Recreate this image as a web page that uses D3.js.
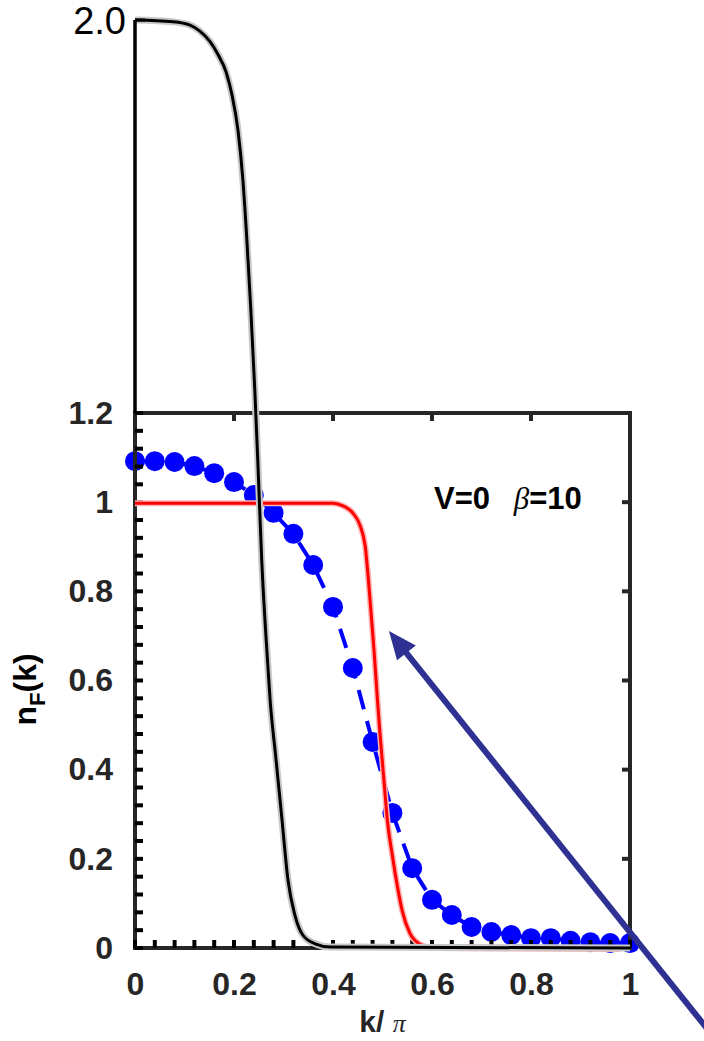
<!DOCTYPE html>
<html><head><meta charset="utf-8">
<script src="https://cdn.jsdelivr.net/npm/d3@7"></script>
<style>
html,body{margin:0;padding:0;background:#fff;}
svg{display:block;}
</style></head>
<body>
<svg id="chart" width="704" height="1041"></svg>
<script>
// ---- data ----
const blueK = [0,0.04,0.08,0.12,0.16,0.20,0.24,0.28,0.32,0.36,0.40,0.44,0.48,0.52,0.56,0.60,0.64,0.68,0.72,0.76,0.80,0.84,0.88,0.92,0.96,1.00];
const blueN = [1.092,1.092,1.090,1.081,1.065,1.045,1.016,0.976,0.929,0.859,0.765,0.628,0.462,0.303,0.179,0.108,0.074,0.047,0.036,0.029,0.022,0.022,0.016,0.013,0.011,0.011];
const redK = [0,0.40,0.42,0.44,0.455,0.465,0.475,0.483,0.49,0.495,0.503,0.51,0.52,0.53,0.54,0.555,0.575,0.60,0.98];
const redN = [1.0,1.0,0.994,0.978,0.949,0.904,0.781,0.668,0.556,0.482,0.377,0.287,0.209,0.141,0.085,0.036,0.011,0.002,0.0];
// black curve belongs to the overlaid 0..2 scale
const blackK = [0,0.077,0.111,0.131,0.152,0.168,0.184,0.196,0.208,0.218,0.226,0.234,0.242,0.248,0.256,0.265,0.273,0.285,0.297,0.309,0.323,0.339,0.364,0.394,1.0];
const blackN = [2.0,1.996,1.989,1.976,1.953,1.925,1.888,1.838,1.763,1.655,1.526,1.375,1.203,1.052,0.836,0.664,0.534,0.405,0.276,0.147,0.071,0.028,0.009,0.002,0.0];
const xTicks = [0,0.2,0.4,0.6,0.8,1];
const xTickLabels = ["0","0.2","0.4","0.6","0.8","1"];
const yTicks = [0,0.2,0.4,0.6,0.8,1,1.2];
const yTickLabels = ["0","0.2","0.4","0.6","0.8","1","1.2"];
const topScaleTick = 2.0;
const topScaleLabel = "2.0";

// ---- layout ----
const svg = d3.select("#chart");
const x = d3.scaleLinear().domain([0,1]).range([135,630]);
const y = d3.scaleLinear().domain([0,1.2]).range([948,413]);
const yTop = d3.scaleLinear().domain([0,2]).range([948,20]);
const axisColor = "#262626";
const fontSans = "'Liberation Sans', Arial, Helvetica, sans-serif";
const fontSerif = "'Liberation Serif', 'DejaVu Serif', serif";

// blue dashed line + dots
const blueData = blueK.map((k,i)=>({k, v: blueN[i]}));
svg.append("path")
  .datum(blueData)
  .attr("d", d3.line().x(d=>x(d.k)).y(d=>y(d.v)))
  .attr("fill","none").attr("stroke","#0000ff").attr("stroke-width",4)
  .attr("stroke-dasharray","20,12");
svg.append("g").selectAll("circle").data(blueData).join("circle")
  .attr("cx",d=>x(d.k)).attr("cy",d=>y(d.v)).attr("r",10).attr("fill","#0000ff");

// axes box
const minorX = d3.range(0,1.0001,0.04);
const minorY = d3.range(0,1.2001,0.04);
const gAx = svg.append("g");
gAx.append("rect").attr("x",x(0)).attr("y",y(1.2)).attr("width",x(1)-x(0)).attr("height",y(0)-y(1.2))
  .attr("fill","none").attr("stroke",axisColor).attr("stroke-width",4);
gAx.append("g").selectAll("line").data(minorY).join("line")
  .attr("x1",x(0)).attr("x2",x(0)+8).attr("y1",d=>y(d)).attr("y2",d=>y(d))
  .attr("stroke","#000").attr("stroke-width",4);
gAx.append("g").selectAll("line").data(minorX).join("line")
  .attr("x1",d=>x(d)).attr("x2",d=>x(d)).attr("y1",y(0)).attr("y2",y(0)-8)
  .attr("stroke","#000").attr("stroke-width",4);
gAx.append("g").selectAll("line").data(xTicks.slice(1,-1)).join("line")
  .attr("x1",d=>x(d)).attr("x2",d=>x(d)).attr("y1",y(1.2)).attr("y2",y(1.2)+8)
  .attr("stroke",axisColor).attr("stroke-width",4);
gAx.append("g").selectAll("line").data(yTicks.slice(1,-1)).join("line")
  .attr("x1",x(1)).attr("x2",x(1)-8).attr("y1",d=>y(d)).attr("y2",d=>y(d))
  .attr("stroke",axisColor).attr("stroke-width",4);

// tick labels via d3 axes
const yAxis = d3.axisLeft(y).tickValues(yTicks).tickSize(0).tickPadding(22)
  .tickFormat((d,i)=>yTickLabels[i]);
const gy = svg.append("g").attr("transform",`translate(${x(0)},0)`).call(yAxis);
gy.select(".domain").remove();
gy.selectAll("text").attr("font-family",fontSans).attr("font-weight","bold")
  .attr("font-size",32).attr("fill",axisColor);

const xAxis = d3.axisBottom(x).tickValues(xTicks).tickSize(0).tickPadding(24)
  .tickFormat((d,i)=>xTickLabels[i]);
const gx = svg.append("g").attr("transform",`translate(0,${y(0)})`).call(xAxis);
gx.select(".domain").remove();
gx.selectAll("text").attr("font-family",fontSans).attr("font-weight","bold")
  .attr("font-size",32).attr("fill",axisColor);

// red curve
const redData = redK.map((k,i)=>({k, v: redN[i]}));
const redLine = d3.line().curve(d3.curveMonotoneX).x(d=>x(d.k)).y(d=>y(d.v)+1);
svg.append("path").datum(redData).attr("d", redLine)
  .attr("fill","none").attr("stroke","#ffb0b0").attr("stroke-width",6);
svg.append("path").datum(redData).attr("d", redLine)
  .attr("fill","none").attr("stroke","#ff0000").attr("stroke-width",3);

// black curve (overlaid 0..2 scale) with grey halo
const blackData = blackK.map((k,i)=>({k, v: blackN[i]}));
const blackLine = d3.line().curve(d3.curveMonotoneX).x(d=>x(d.k)).y(d=>yTop(d.v));
svg.append("path").datum(blackData).attr("d",blackLine)
  .attr("fill","none").attr("stroke","#c8c8c8").attr("stroke-width",7);
svg.append("path").datum(blackData).attr("d",blackLine)
  .attr("fill","none").attr("stroke","#000").attr("stroke-width",3);

// overlaid top axis (vertical segment up to 2.0)
svg.append("line").attr("x1",x(0)).attr("x2",x(0)).attr("y1",yTop(topScaleTick)).attr("y2",y(1.2))
  .attr("stroke","#000").attr("stroke-width",3.5);
svg.append("line").attr("x1",x(0)).attr("x2",x(0)+10).attr("y1",yTop(topScaleTick)).attr("y2",yTop(topScaleTick))
  .attr("stroke","#000").attr("stroke-width",3);
svg.append("text").attr("x",x(0)-9).attr("y",yTop(topScaleTick)).attr("dy","0.36em")
  .attr("text-anchor","end").attr("font-family",fontSans).attr("font-size",38).attr("fill","#000")
  .text(topScaleLabel);

// annotation
const annY = y(0.985);
svg.append("text").attr("x",x(0.604)).attr("y",annY)
  .attr("font-family",fontSans).attr("font-weight","bold").attr("font-size",31).attr("fill","#000")
  .text("V=0");
const ann2 = svg.append("text").attr("x",x(0.765)).attr("y",annY)
  .attr("font-family",fontSans).attr("font-weight","bold").attr("font-size",31).attr("fill","#000");
ann2.append("tspan").attr("font-family",fontSerif).attr("font-style","italic")
  .attr("font-weight","normal").attr("font-size",31).text("β");
ann2.append("tspan").text("=10");

// axis labels
const xl = svg.append("text").attr("x",x(0.5)).attr("y",1032).attr("text-anchor","middle")
  .attr("font-family",fontSans).attr("font-weight","bold").attr("font-size",30).attr("fill",axisColor);
xl.append("tspan").text("k/ ");
xl.append("tspan").attr("font-family",fontSerif).attr("font-style","italic")
  .attr("font-weight","normal").attr("font-size",26).text("π");

const yl = svg.append("text").attr("transform",`translate(36,${y(0.58)}) rotate(-90)`).attr("text-anchor","middle")
  .attr("font-family",fontSans).attr("font-weight","bold").attr("font-size",32).attr("fill","#000");
yl.append("tspan").text("n");
yl.append("tspan").attr("font-size",22).attr("dy",9).text("F");
yl.append("tspan").attr("dy",-9).text("(k)");

// arrow annotation
const aStart = [x(1.176), y(-0.209)];
const aTip = [x(0.513), y(0.711)];
const dx = aTip[0]-aStart[0], dy = aTip[1]-aStart[1];
const len = Math.hypot(dx,dy), ux = dx/len, uy = dy/len;
const headL = 28, headW = 12;
const base = [aTip[0]-ux*headL, aTip[1]-uy*headL];
svg.append("line").attr("x1",aStart[0]).attr("y1",aStart[1]).attr("x2",base[0]+ux*4).attr("y2",base[1]+uy*4)
  .attr("stroke","#2e3192").attr("stroke-width",6);
svg.append("path")
  .attr("d",`M${aTip[0]},${aTip[1]}L${base[0]-uy*headW},${base[1]+ux*headW}L${base[0]+uy*headW},${base[1]-ux*headW}Z`)
  .attr("fill","#2e3192");
</script>
</body></html>
